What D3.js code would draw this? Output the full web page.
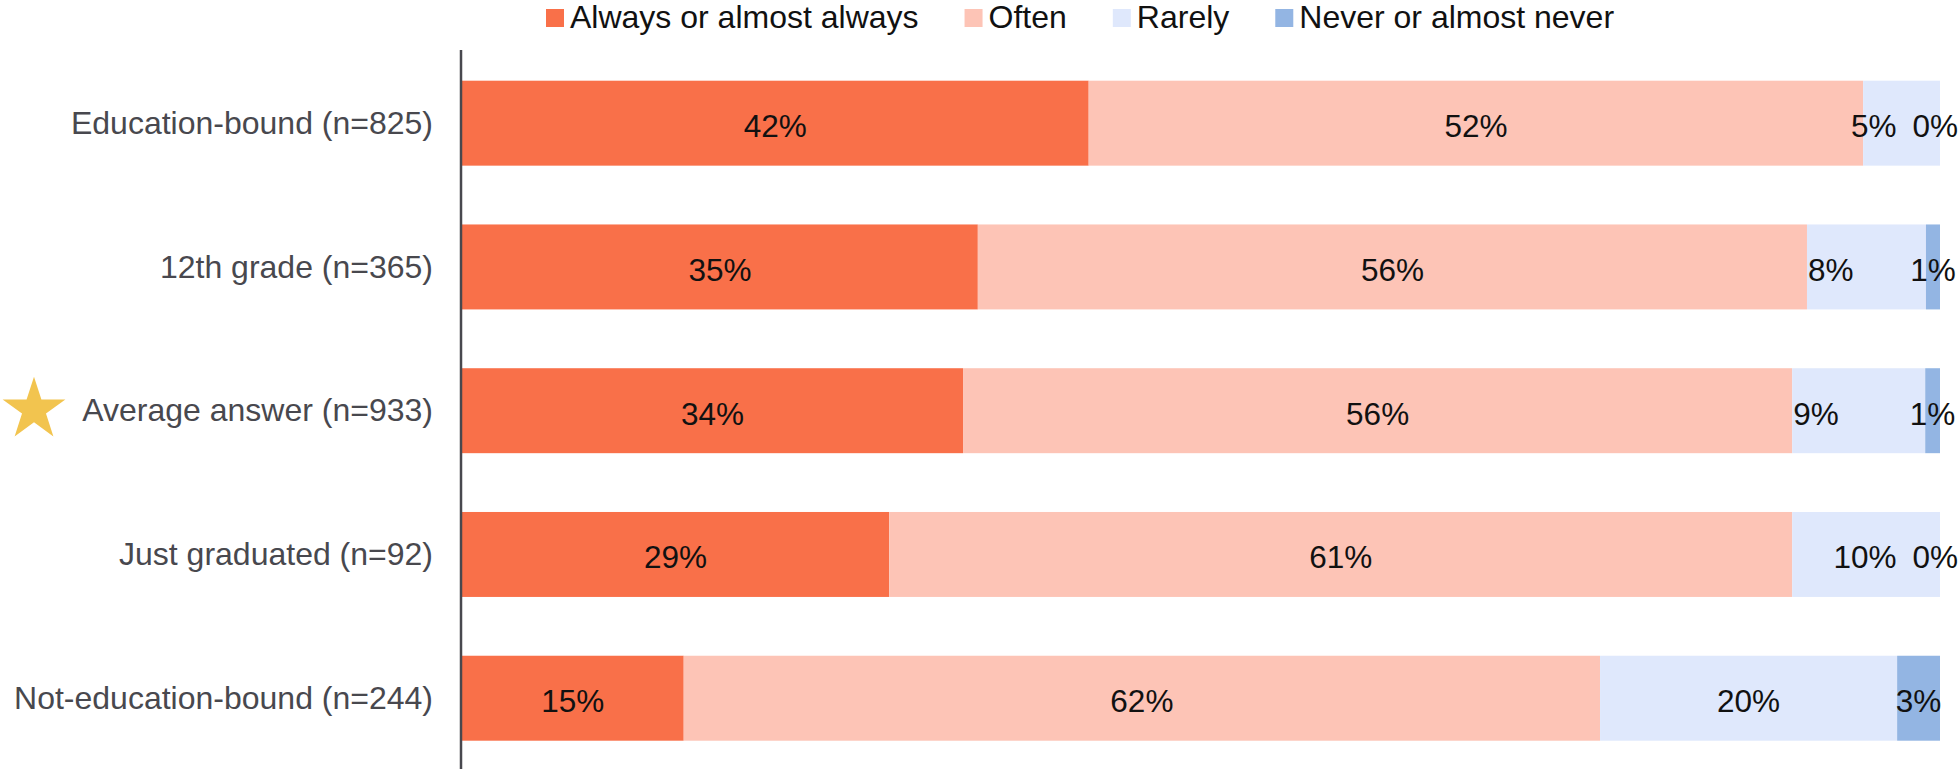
<!DOCTYPE html>
<html>
<head>
<meta charset="utf-8">
<script src="https://cdn.jsdelivr.net/npm/d3@7"></script>
<style>
  html, body { margin: 0; padding: 0; background: #fff; }
  svg { display: block; }
  text { font-family: "Liberation Sans", Arial, Helvetica, sans-serif; }
</style>
</head>
<body>
<svg id="chart" width="1959" height="769"></svg>
<script>
const categories = [
  "Education-bound (n=825)",
  "12th grade (n=365)",
  "Average answer (n=933)",
  "Just graduated (n=92)",
  "Not-education-bound (n=244)"
];
const seriesNames = ["Always or almost always", "Often", "Rarely", "Never or almost never"];
const alwaysValues = [42.4, 34.9, 33.9, 28.9, 15.0];
const oftenValues  = [52.4, 56.1, 56.1, 61.1, 62.0];
const rarelyValues = [5.2, 8.05, 9.0, 10.0, 20.1];
const neverValues  = [0.0, 0.95, 1.0, 0.0, 2.9];
const highlighted = "Average answer (n=933)";
const colors = ["#F97049", "#FDC4B6", "#DFE8FC", "#93B5E3"];

const W = 1959, H = 769;
const svg = d3.select("#chart");

const rows = categories.map((c, i) => ({
  cat: c,
  vals: [alwaysValues[i], oftenValues[i], rarelyValues[i], neverValues[i]]
}));

const x = d3.scaleLinear().domain([0, 100]).range([462, 1940]);
const y = d3.scaleBand().domain(categories).range([80.7, 740.7]).paddingInner(0.409).paddingOuter(0);

// stacked segments
const segs = [];
rows.forEach(r => {
  let acc = 0;
  r.vals.forEach((v, k) => {
    segs.push({cat: r.cat, k, v, x0: acc, x1: acc + v});
    acc += v;
  });
});

svg.append("g").selectAll("rect").data(segs).join("rect")
  .attr("x", d => x(d.x0))
  .attr("y", d => y(d.cat))
  .attr("width", d => Math.max(0, x(d.x1) - x(d.x0)))
  .attr("height", y.bandwidth())
  .attr("fill", d => colors[d.k]);

// value labels
const lg = svg.append("g");
rows.forEach(r => {
  const rs = segs.filter(s => s.cat === r.cat);
  const texts = rs.map(s => lg.append("text")
    .attr("text-anchor", "middle")
    .attr("font-size", 31.5)
    .attr("fill", "#111")
    .attr("y", y(r.cat) + y.bandwidth() / 2)
    .attr("dy", "0.44em")
    .text(Math.round(s.v) + "%"));
  const pos = rs.map((s, i) => {
    const w = texts[i].node().getComputedTextLength();
    return {c: (x(s.x0) + x(s.x1)) / 2, w, s};
  });
  const gap = 16;
  for (let i = pos.length - 1; i >= 0; i--) {
    if (pos[i].c + pos[i].w / 2 > W - 1) pos[i].c = W - 1 - pos[i].w / 2;
    if (i < pos.length - 1) {
      const nxt = pos[i + 1];
      const room = (nxt.c - nxt.w / 2) - (pos[i].c + pos[i].w / 2);
      // crowded next to a real (non-empty) segment: start label at the segment's left edge
      if (room < 40 && nxt.s.v > 0) {
        pos[i].c = x(pos[i].s.x0) + 1 + pos[i].w / 2;
      }
      const lim = nxt.c - nxt.w / 2 - gap;
      if (pos[i].c + pos[i].w / 2 > lim) pos[i].c = lim - pos[i].w / 2;
    }
  }
  texts.forEach((t, i) => t.attr("x", pos[i].c));
});

// category axis
const yAxis = d3.axisLeft(y).tickSize(0).tickPadding(28);
const ag = svg.append("g").attr("transform", "translate(461,0)").call(yAxis);
ag.select(".domain").remove();
ag.selectAll("text")
  .attr("font-size", 32)
  .attr("font-family", "'Liberation Sans', Arial, sans-serif")
  .attr("fill", "#48484e")
  .attr("dy", "0.33em");

svg.append("line")
  .attr("x1", 461).attr("x2", 461)
  .attr("y1", 50).attr("y2", H)
  .attr("stroke", "#48484e").attr("stroke-width", 2.5);

// star for highlighted row
svg.append("path")
  .attr("d", d3.symbol(d3.symbolStar).size(1222)())
  .attr("transform", `translate(34,${y(highlighted) + y.bandwidth() / 2 - 1})`)
  .attr("fill", "#F2C44F");

// legend
const leg = svg.append("g");
let lx = 546;
seriesNames.forEach((n, k) => {
  leg.append("rect").attr("x", lx).attr("y", 9).attr("width", 18).attr("height", 18).attr("fill", colors[k]);
  const t = leg.append("text").attr("x", lx + 24).attr("y", 28)
    .attr("font-size", 32).attr("fill", "#111").text(n);
  lx += 24 + t.node().getComputedTextLength() + 46;
});
</script>
</body>
</html>
